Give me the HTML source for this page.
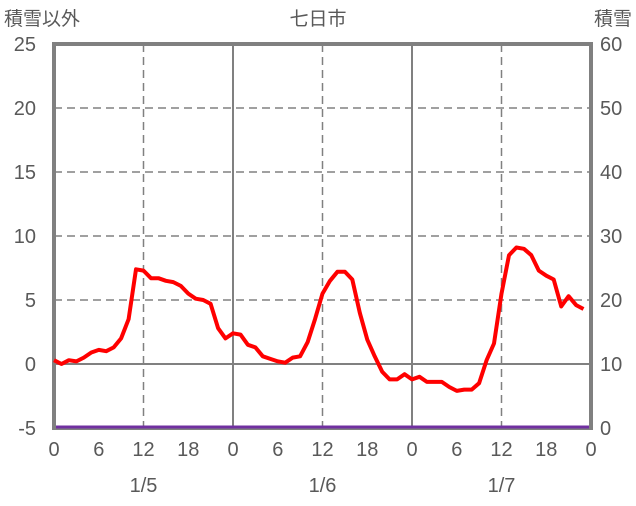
<!DOCTYPE html>
<html><head><meta charset="utf-8"><style>
body{margin:0;background:#fff;}
svg text{font-family:"Liberation Sans","Noto Sans CJK JP",sans-serif;fill:#595959;font-size:20px;}
</style></head><body>
<svg id="s" width="636" height="501" xmlns="http://www.w3.org/2000/svg">
<text x="4" y="25" style="font-family:'Noto Sans CJK JP',sans-serif;font-size:19px">積雪以外</text>
<text x="318" y="25" text-anchor="middle" style="font-family:'Noto Sans CJK JP',sans-serif;font-size:19px">七日市</text>
<text x="632" y="25" text-anchor="end" style="font-family:'Noto Sans CJK JP',sans-serif;font-size:19px">積雪</text>
<g id="g"></g>
</svg>
<script>
var g=document.getElementById('g'),h='';
var X=function(t){return 54+t*537/72;},Y=function(v){return 364-12.8*v;};
// horizontal dashed grid
for(var v=-5;v<=25;v+=5){var y=Y(v);
 if(v>-5&&v<25&&v!=0)h+='<line x1="54" x2="591" y1="'+y+'" y2="'+y+'" stroke="#808080" stroke-width="1.5" stroke-dasharray="8,5"/>';
 h+='<text x="36" y="'+(y+7)+'" text-anchor="end">'+v+'</text>';
 h+='<text x="600" y="'+(y+7)+'">'+((v+5)*2)+'</text>';}
h+='<line x1="54" x2="591" y1="'+Y(0)+'" y2="'+Y(0)+'" stroke="#808080" stroke-width="2"/>';
// vertical
for(var t=12;t<72;t+=12){var x=X(t);
 if(t%24==0)h+='<line x1="'+x+'" x2="'+x+'" y1="44" y2="428" stroke="#808080" stroke-width="2"/>';
 else h+='<line x1="'+x+'" x2="'+x+'" y1="44" y2="428" stroke="#808080" stroke-width="1.5" stroke-dasharray="8,5"/>';}
var lab=['0','6','12','18'];
for(var t=0;t<=72;t+=6){h+='<text x="'+X(t)+'" y="456" text-anchor="middle">'+(t==72?'0':lab[(t/6)%4])+'</text>';}
['1/5','1/6','1/7'].forEach(function(d,i){h+='<text x="'+X(12+24*i)+'" y="492" text-anchor="middle">'+d+'</text>';});
h+='<rect x="54" y="44" width="537" height="384" fill="none" stroke="#808080" stroke-width="4"/>';
h+='<line x1="56" x2="589" y1="427" y2="427" stroke="#7030a0" stroke-width="3"/>';
var d=[0.3,0,0.3,0.2,0.5,0.9,1.1,1.0,1.3,2.0,3.5,7.4,7.3,6.7,6.7,6.5,6.4,6.1,5.5,5.1,5.0,4.7,2.8,2.0,2.4,2.3,1.5,1.3,0.6,0.4,0.2,0.1,0.5,0.6,1.7,3.5,5.5,6.5,7.2,7.2,6.6,4.0,1.9,0.6,-0.6,-1.2,-1.2,-0.8,-1.2,-1.0,-1.4,-1.4,-1.4,-1.8,-2.1,-2.0,-2.0,-1.5,0.3,1.6,5.5,8.5,9.1,9.0,8.5,7.3,6.9,6.6,4.5,5.3,4.6,4.3];
var p=d.map(function(v,i){return X(i).toFixed(1)+','+Y(v).toFixed(1);}).join(' ');
h+='<polyline points="'+p+'" fill="none" stroke="#ff0000" stroke-width="4" stroke-linejoin="round"/>';
g.innerHTML=h;
</script>
</body></html>
